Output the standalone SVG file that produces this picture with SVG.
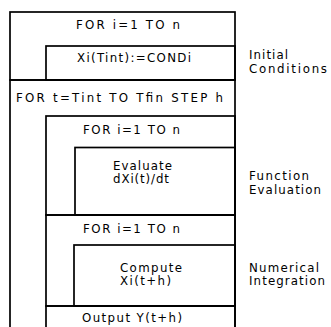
<svg xmlns="http://www.w3.org/2000/svg" width="331" height="327" viewBox="0 0 331 327">
<style>
.b{fill:none;stroke:#000;stroke-width:1.7}
text{font-family:"DejaVu Sans","Liberation Sans",sans-serif;font-size:11.8px;fill:#000}
</style>
<rect width="331" height="327" fill="#fff"/>
<g id="connectors"/>
<g id="for-i-init">
<rect class="b" x="10" y="12" width="225" height="68"/>
<text x="76" y="29" textLength="104" lengthAdjust="spacing">FOR i=1 TO n</text>
</g>
<g id="init-cond">
<rect class="b" x="46" y="46" width="189" height="34"/>
<text x="77" y="62" textLength="114" lengthAdjust="spacing">Xi(Tint):=CONDi</text>
</g>
<g id="for-t">
<rect class="b" x="10" y="80" width="225" height="260"/>
<text x="16" y="102" textLength="207" lengthAdjust="spacing">FOR t=Tint TO Tfin STEP h</text>
</g>
<g id="for-i-eval">
<rect class="b" x="46" y="116" width="189" height="99"/>
<text x="83" y="134" textLength="97" lengthAdjust="spacing">FOR i=1 TO n</text>
</g>
<g id="evaluate">
<rect class="b" x="75" y="147.5" width="160" height="67.5"/>
<text x="113" y="170" textLength="59" lengthAdjust="spacing">Evaluate</text>
<text x="113" y="183" textLength="56" lengthAdjust="spacing">dXi(t)/dt</text>
</g>
<g id="for-i-int">
<rect class="b" x="46" y="215" width="189" height="91"/>
<text x="83" y="233" textLength="97" lengthAdjust="spacing">FOR i=1 TO n</text>
</g>
<g id="compute">
<rect class="b" x="74" y="245" width="161" height="61"/>
<text x="120" y="272" textLength="62" lengthAdjust="spacing">Compute</text>
<text x="120" y="285" textLength="51" lengthAdjust="spacing">Xi(t+h)</text>
</g>
<g id="output">
<rect class="b" x="46" y="306" width="189" height="30"/>
<text x="82" y="321.5" textLength="100" lengthAdjust="spacing">Output Y(t+h)</text>
</g>
<g id="labels">
<text x="249" y="59" textLength="39" lengthAdjust="spacing">Initial</text>
<text x="249" y="73" textLength="78" lengthAdjust="spacing">Conditions</text>
<text x="249" y="180" textLength="60" lengthAdjust="spacing">Function</text>
<text x="249" y="194" textLength="72" lengthAdjust="spacing">Evaluation</text>
<text x="249" y="272" textLength="70" lengthAdjust="spacing">Numerical</text>
<text x="249" y="285" textLength="76" lengthAdjust="spacing">Integration</text>
</g>
</svg>
